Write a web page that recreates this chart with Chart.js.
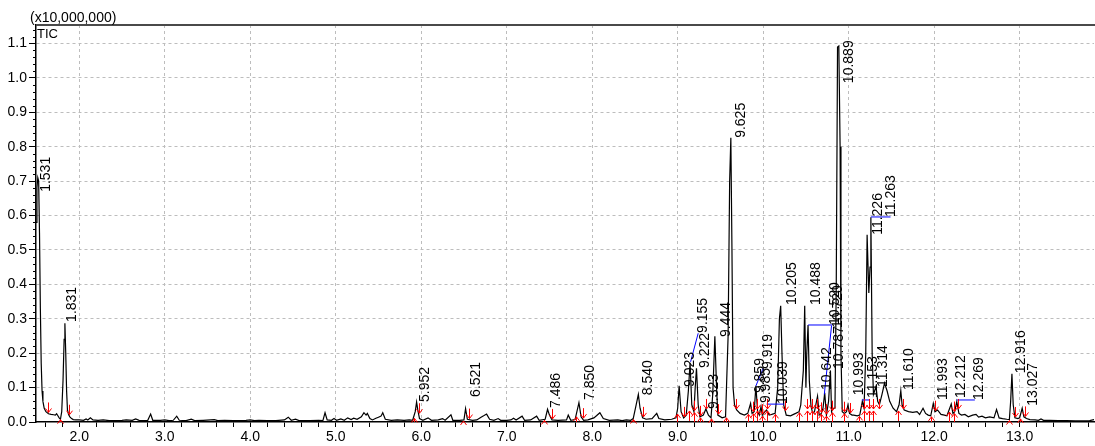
<!DOCTYPE html>
<html>
<head>
<meta charset="utf-8">
<script src="https://cdn.jsdelivr.net/npm/chart.js@4.4.1/dist/chart.umd.min.js"></script>
<style>
  html, body { margin: 0; padding: 0; background: #ffffff; }
  #wrap { width: 1095px; height: 446px; position: relative; }
</style>
</head>
<body>
<div id="wrap"><canvas id="tic"></canvas></div>
<script>
// TIC trace, [retention time (min), intensity (x10,000,000)]
const traceStart = [
    [1.494, 0.58], [1.505, 0.68], [1.515, 0.71], [1.525, 0.70], [1.535, 0.55], [1.545, 0.33],
    [1.555, 0.17], [1.565, 0.09], [1.575, 0.06], [1.59, 0.04], [1.61, 0.03], [1.64, 0.024],
    [1.67, 0.022], [1.70, 0.021], [1.72, 0.02], [1.735, 0.024], [1.75, 0.018], [1.765, 0.012],
    [1.78, 0.008], [1.795, 0.03], [1.81, 0.12], [1.823, 0.24], [1.832, 0.287], [1.842, 0.2],
    [1.852, 0.09], [1.862, 0.035], [1.875, 0.022], [1.89, 0.015], [1.91, 0.01], [1.93, 0.007],
    [1.96, 0.006], [2.0, 0.006]
];
const traceBaseline = [
    [2.05, 0.005], [2.08, 0.009], [2.1, 0.006], [2.13, 0.012], [2.16, 0.006], [2.22, 0.005],
    [2.28, 0.006], [2.35, 0.004], [2.5, 0.005], [2.55, 0.006], [2.62, 0.005], [2.66, 0.009],
    [2.7, 0.005], [2.8, 0.004], [2.835, 0.023], [2.86, 0.005], [2.95, 0.005], [3.0, 0.006],
    [3.05, 0.004], [3.1, 0.005], [3.14, 0.017], [3.17, 0.005], [3.25, 0.004], [3.31, 0.008],
    [3.35, 0.004], [3.45, 0.005], [3.58, 0.007], [3.62, 0.004], [3.7, 0.005], [3.8, 0.004],
    [3.95, 0.005], [4.0, 0.006], [4.05, 0.004], [4.1, 0.005], [4.2, 0.004], [4.3, 0.004],
    [4.4, 0.006], [4.445, 0.014], [4.48, 0.005], [4.53, 0.008], [4.57, 0.004], [4.7, 0.004],
    [4.8, 0.005], [4.85, 0.004], [4.875, 0.027], [4.9, 0.006], [4.95, 0.005], [4.98, 0.01],
    [5.01, 0.005], [5.06, 0.009], [5.1, 0.005], [5.14, 0.012], [5.18, 0.007], [5.21, 0.011],
    [5.25, 0.008], [5.3, 0.015], [5.33, 0.027], [5.355, 0.02], [5.37, 0.025], [5.4, 0.01],
    [5.43, 0.006], [5.47, 0.011], [5.5, 0.014], [5.53, 0.017], [5.55, 0.027], [5.58, 0.008],
    [5.65, 0.005], [5.72, 0.006], [5.8, 0.005], [5.86, 0.006], [5.9, 0.005]
];
const traceMiddle = [
    [5.93, 0.03], [5.946, 0.058], [5.96, 0.035], [5.98, 0.01], [6.02, 0.005], [6.08, 0.012],
    [6.12, 0.005], [6.2, 0.006], [6.25, 0.01], [6.28, 0.005], [6.348, 0.021], [6.37, 0.005],
    [6.45, 0.005], [6.5, 0.006], [6.519, 0.039], [6.54, 0.008], [6.6, 0.005], [6.65, 0.006],
    [6.7, 0.014], [6.73, 0.018], [6.765, 0.023], [6.8, 0.008], [6.85, 0.005], [6.9, 0.01],
    [6.93, 0.005], [7.0, 0.005], [7.05, 0.006], [7.08, 0.011], [7.11, 0.006], [7.18, 0.017],
    [7.21, 0.005], [7.28, 0.006], [7.35, 0.017], [7.38, 0.005], [7.45, 0.008], [7.478, 0.037],
    [7.5, 0.02], [7.53, 0.006], [7.6, 0.005], [7.7, 0.006], [7.72, 0.02], [7.75, 0.005],
    [7.8, 0.007], [7.845, 0.056], [7.87, 0.015], [7.9, 0.005], [7.95, 0.006], [8.02, 0.012],
    [8.05, 0.018], [8.09, 0.027], [8.13, 0.01], [8.2, 0.005], [8.3, 0.006], [8.35, 0.004],
    [8.4, 0.006], [8.45, 0.005], [8.48, 0.01], [8.51, 0.045], [8.54, 0.08], [8.56, 0.04],
    [8.59, 0.012], [8.63, 0.008], [8.7, 0.01], [8.755, 0.025], [8.78, 0.01], [8.85, 0.006],
    [8.93, 0.008], [8.98, 0.012]
];
const traceCluster = [
    [9.0, 0.04], [9.017, 0.105], [9.04, 0.03], [9.07, 0.012], [9.1, 0.02], [9.125, 0.09],
    [9.145, 0.172], [9.165, 0.05], [9.19, 0.03], [9.205, 0.1], [9.22, 0.156], [9.24, 0.05],
    [9.26, 0.015], [9.3, 0.02], [9.33, 0.038], [9.36, 0.02], [9.39, 0.012], [9.41, 0.08],
    [9.435, 0.249], [9.455, 0.1], [9.47, 0.02], [9.52, 0.012], [9.56, 0.015], [9.59, 0.25],
    [9.608, 0.7], [9.622, 0.826], [9.635, 0.5], [9.648, 0.1], [9.665, 0.05], [9.69, 0.035],
    [9.73, 0.025], [9.78, 0.02], [9.82, 0.025], [9.853, 0.054], [9.87, 0.025], [9.895, 0.03],
    [9.915, 0.105], [9.935, 0.03], [9.955, 0.02], [9.975, 0.045], [9.99, 0.02], [10.02, 0.03],
    [10.04, 0.035], [10.07, 0.02], [10.1, 0.022], [10.14, 0.025], [10.17, 0.1], [10.19, 0.3],
    [10.205, 0.338], [10.22, 0.2], [10.24, 0.05], [10.27, 0.02], [10.32, 0.018], [10.38, 0.025],
    [10.42, 0.03], [10.44, 0.05], [10.47, 0.15], [10.486, 0.338], [10.5, 0.1], [10.51, 0.2],
    [10.525, 0.282], [10.54, 0.12], [10.56, 0.045], [10.58, 0.025], [10.6, 0.03], [10.636, 0.075],
    [10.655, 0.02], [10.68, 0.025], [10.7, 0.04], [10.72, 0.085], [10.74, 0.02], [10.765, 0.06],
    [10.787, 0.15], [10.80, 0.03], [10.815, 0.04], [10.84, 0.04], [10.855, 0.4], [10.87, 1.09],
    [10.885, 1.093], [10.9, 0.8], [10.91, 0.2], [10.925, 0.03], [10.95, 0.025], [10.975, 0.03],
    [10.992, 0.05], [11.01, 0.025], [11.04, 0.02]
];
const traceLate = [
    [11.06, 0.02], [11.1, 0.018], [11.13, 0.02], [11.16, 0.06], [11.18, 0.04], [11.2, 0.2],
    [11.216, 0.544], [11.236, 0.375], [11.25, 0.45], [11.26, 0.595], [11.275, 0.2], [11.29, 0.08],
    [11.32, 0.103], [11.34, 0.06], [11.36, 0.05], [11.39, 0.08], [11.42, 0.113], [11.45, 0.09],
    [11.48, 0.06], [11.52, 0.04], [11.56, 0.03], [11.59, 0.05], [11.61, 0.091], [11.625, 0.05],
    [11.65, 0.035], [11.7, 0.03], [11.75, 0.028], [11.8, 0.03], [11.83, 0.022], [11.87, 0.04],
    [11.9, 0.025], [11.93, 0.02], [11.96, 0.018], [11.99, 0.054], [12.01, 0.03], [12.04, 0.035],
    [12.08, 0.022], [12.12, 0.02], [12.15, 0.018], [12.2, 0.052], [12.22, 0.025], [12.24, 0.03],
    [12.265, 0.059], [12.29, 0.025], [12.32, 0.02], [12.36, 0.022], [12.4, 0.015], [12.45, 0.02],
    [12.49, 0.022], [12.52, 0.014], [12.56, 0.017], [12.6, 0.012], [12.65, 0.015], [12.7, 0.012],
    [12.73, 0.036], [12.76, 0.012], [12.8, 0.01], [12.85, 0.008], [12.88, 0.007], [12.895, 0.06],
    [12.91, 0.14], [12.925, 0.05], [12.945, 0.012], [12.98, 0.01], [13.0, 0.012], [13.03, 0.04],
    [13.05, 0.015], [13.08, 0.01], [13.12, 0.007], [13.18, 0.006], [13.22, 0.005], [13.25, 0.009],
    [13.28, 0.005], [13.35, 0.005], [13.45, 0.004], [13.55, 0.004], [13.65, 0.003], [13.75, 0.003],
    [13.82, 0.004], [13.87, 0.007]
];

// peak labels: text, and where the rotated label starts (time, intensity)
const peakLabels = ['1.531', '1.831', '5.952', '6.521', '7.486', '7.850', '8.540', '9.023', '9.155', '9.222',
    '9.323', '9.444', '9.625', '9.859', '9.919', '9.985', '10.039', '10.205', '10.488', '10.520',
    '10.720', '10.642', '10.787', '10.889', '10.993', '11.153', '11.226', '11.263', '11.314', '11.610',
    '11.993', '12.212', '12.269', '12.916', '13.027'];
const labelTime = [1.54, 1.844, 5.973, 6.57, 7.503, 7.901, 8.58, 9.078, 9.231, 9.254,
    9.36, 9.5, 9.668, 9.891, 9.984, 9.97, 10.158, 10.265, 10.546, 10.768,
    10.803, 10.675, 10.817, 10.932, 11.049, 11.213, 11.271, 11.423, 11.33, 11.633,
    12.031, 12.242, 12.453, 12.944, 13.084];
const labelLevel = [0.669, 0.291, 0.058, 0.073, 0.041, 0.064, 0.078, 0.102, 0.259, 0.157,
    0.038, 0.247, 0.826, 0.084, 0.154, 0.055, 0.052, 0.34, 0.34, 0.282,
    0.273, 0.093, 0.154, 0.985, 0.078, 0.07, 0.544, 0.596, 0.102, 0.093,
    0.064, 0.07, 0.064, 0.142, 0.047];

// blue leader lines: [t1, i1, t2, i2]
const leaderLines = [
    [9.151, 0.175, 9.24, 0.258],
    [9.915, 0.105, 10.0, 0.156],
    [10.04, 0.052, 10.246, 0.052],
    [10.526, 0.282, 10.807, 0.282],
    [10.80, 0.28, 10.715, 0.08],
    [11.154, 0.064, 11.247, 0.064],
    [11.26, 0.596, 11.49, 0.596],
    [12.262, 0.064, 12.476, 0.064]
];

// integration marks (red arrows), with the baseline level they point at
const peakStarts = [1.774, 5.91, 6.49, 7.44, 7.81, 8.48, 8.99, 9.13, 9.19, 9.26, 9.39, 9.56, 9.82, 9.88,
    9.93, 9.99, 10.04, 10.14, 10.42, 10.51, 10.57, 10.63, 10.68, 10.74, 10.80, 10.94, 11.12, 11.18,
    11.24, 11.29, 11.58, 11.96, 12.17, 12.23, 12.88, 13.0];
const peakEnds = [1.636, 1.883, 5.97, 6.56, 7.53, 7.89, 8.59, 9.07, 9.19, 9.26, 9.33, 9.47, 9.68, 9.88,
    9.93, 9.99, 10.04, 10.26, 10.51, 10.57, 10.63, 10.68, 10.74, 10.80, 10.94, 11.02, 11.18, 11.24,
    11.29, 11.35, 11.64, 12.01, 12.23, 12.28, 12.95, 13.06];
const markBaselineCap = 0.035;

const xRange = [1.494, 13.87];
const yRange = [0, 1.154];

const trace = [...traceStart, ...traceBaseline, ...traceMiddle, ...traceCluster, ...traceLate];
const FONT = "'Liberation Sans', Arial, sans-serif";

const isMajorX = (v) => Math.abs(v - Math.round(v)) < 1e-6;
const isMajorY = (v) => Math.abs(v * 10 - Math.round(v * 10)) < 1e-6;

// level of the trace at t (for placing marks on it)
const traceAt = (t) => {
    for (let i = 1; i < trace.length; i++) {
        if (trace[i][0] >= t) {
            const [t0, v0] = trace[i - 1];
            const [t1, v1] = trace[i];
            return v0 + (v1 - v0) * (t - t0) / (t1 - t0);
        }
    }
    return trace[trace.length - 1][1];
};
const markLevel = (t) => Math.min(traceAt(t), markBaselineCap);

const annotations = {
    id: 'annotations',
    afterDatasetsDraw(chart) {
        const { ctx, chartArea, scales: { x, y } } = chart;
        ctx.save();

        // minor ticks on y
        ctx.strokeStyle = '#000';
        ctx.lineWidth = 1;
        ctx.beginPath();
        for (let k = 0; k <= 57; k++) {
            const v = k * 0.02;
            if (isMajorY(v)) continue;
            const py = Math.round(y.getPixelForValue(v)) + 0.5;
            ctx.moveTo(chartArea.left - 3, py);
            ctx.lineTo(chartArea.left, py);
        }
        ctx.stroke();

        // top frame line
        ctx.strokeStyle = '#4a4a4a';
        ctx.lineWidth = 2;
        ctx.beginPath();
        ctx.moveTo(chartArea.left, chartArea.top);
        ctx.lineTo(chartArea.right + 2, chartArea.top);
        ctx.stroke();

        // leader lines
        ctx.strokeStyle = '#0000ff';
        ctx.lineWidth = 1;
        leaderLines.forEach(([t1, i1, t2, i2]) => {
            ctx.beginPath();
            ctx.moveTo(x.getPixelForValue(t1), y.getPixelForValue(i1));
            ctx.lineTo(x.getPixelForValue(t2), y.getPixelForValue(i2));
            ctx.stroke();
        });

        // red arrows
        ctx.strokeStyle = '#ff0000';
        ctx.lineWidth = 1;
        const bottom = chartArea.bottom;
        peakStarts.forEach((t) => {
            const px = Math.round(x.getPixelForValue(t)) + 0.5;
            const tip = y.getPixelForValue(markLevel(t)) + 1;
            const tail = Math.min(tip + 10, bottom);
            ctx.beginPath();
            ctx.moveTo(px, tail);
            ctx.lineTo(px, tip);
            ctx.moveTo(px - 3, tip + 4);
            ctx.lineTo(px, tip);
            ctx.lineTo(px + 3, tip + 4);
            ctx.stroke();
        });
        peakEnds.forEach((t) => {
            const px = Math.round(x.getPixelForValue(t)) + 0.5;
            const tip = y.getPixelForValue(markLevel(t)) - 1;
            ctx.beginPath();
            ctx.moveTo(px, tip - 10);
            ctx.lineTo(px, tip);
            ctx.moveTo(px - 3, tip - 4);
            ctx.lineTo(px, tip);
            ctx.lineTo(px + 3, tip - 4);
            ctx.stroke();
        });

        // peak labels
        ctx.fillStyle = '#000';
        ctx.font = '14px ' + FONT;
        ctx.textAlign = 'left';
        ctx.textBaseline = 'top';
        peakLabels.forEach((text, i) => {
            ctx.save();
            ctx.translate(x.getPixelForValue(labelTime[i]) - 1, y.getPixelForValue(labelLevel[i]));
            ctx.rotate(-Math.PI / 2);
            ctx.fillText(text, 0, 0);
            ctx.restore();
        });

        // titles
        ctx.textBaseline = 'alphabetic';
        ctx.font = '14px ' + FONT;
        ctx.fillText('(x10,000,000)', 30, 22);
        ctx.font = '13px ' + FONT;
        ctx.fillText('TIC', chartArea.left + 1, chartArea.top + 13);
        ctx.restore();
    }
};

new Chart(document.getElementById('tic'), {
    type: 'line',
    data: {
        datasets: [{
            data: trace.map(([t, v]) => ({ x: t, y: v })),
            borderColor: '#000000',
            borderWidth: 1.2,
            pointRadius: 0,
            tension: 0,
            fill: false
        }]
    },
    options: {
        responsive: true,
        maintainAspectRatio: false,
        animation: false,
        layout: { padding: { top: 25, right: 1, left: 0, bottom: 0 } },
        plugins: {
            legend: { display: false },
            tooltip: { enabled: false }
        },
        scales: {
            x: {
                type: 'linear',
                min: xRange[0],
                max: xRange[1],
                afterFit: (scale) => { scale.height = 24; },
                ticks: {
                    stepSize: 0.2,
                    autoSkip: false,
                    includeBounds: false,
                    maxRotation: 0,
                    padding: 2,
                    color: '#000',
                    font: { family: FONT, size: 14 },
                    callback: (v) => isMajorX(v) ? v.toFixed(1) : ''
                },
                grid: {
                    color: (c) => (c.tick && isMajorX(c.tick.value)) ? '#bdbdbd' : 'rgba(0,0,0,0)',
                    tickColor: '#000',
                    tickLength: 5,
                    drawTicks: true
                },
                border: { color: '#000', width: 1.5, dash: [3, 3] }
            },
            y: {
                min: yRange[0],
                max: yRange[1],
                afterFit: (scale) => { scale.width = 36; },
                ticks: {
                    stepSize: 0.02,
                    autoSkip: false,
                    includeBounds: false,
                    padding: 2,
                    color: '#000',
                    font: { family: FONT, size: 14 },
                    callback: (v) => isMajorY(v) ? v.toFixed(1) : ''
                },
                grid: {
                    color: (c) => (c.tick && isMajorY(c.tick.value) && c.tick.value > 0) ? '#bdbdbd' : 'rgba(0,0,0,0)',
                    tickColor: (c) => (c.tick && isMajorY(c.tick.value)) ? '#000' : 'rgba(0,0,0,0)',
                    tickLength: 7,
                    drawTicks: true
                },
                border: { color: '#000', width: 1.5, dash: [3, 3] }
            }
        }
    },
    plugins: [annotations]
});
</script>
</body>
</html>
